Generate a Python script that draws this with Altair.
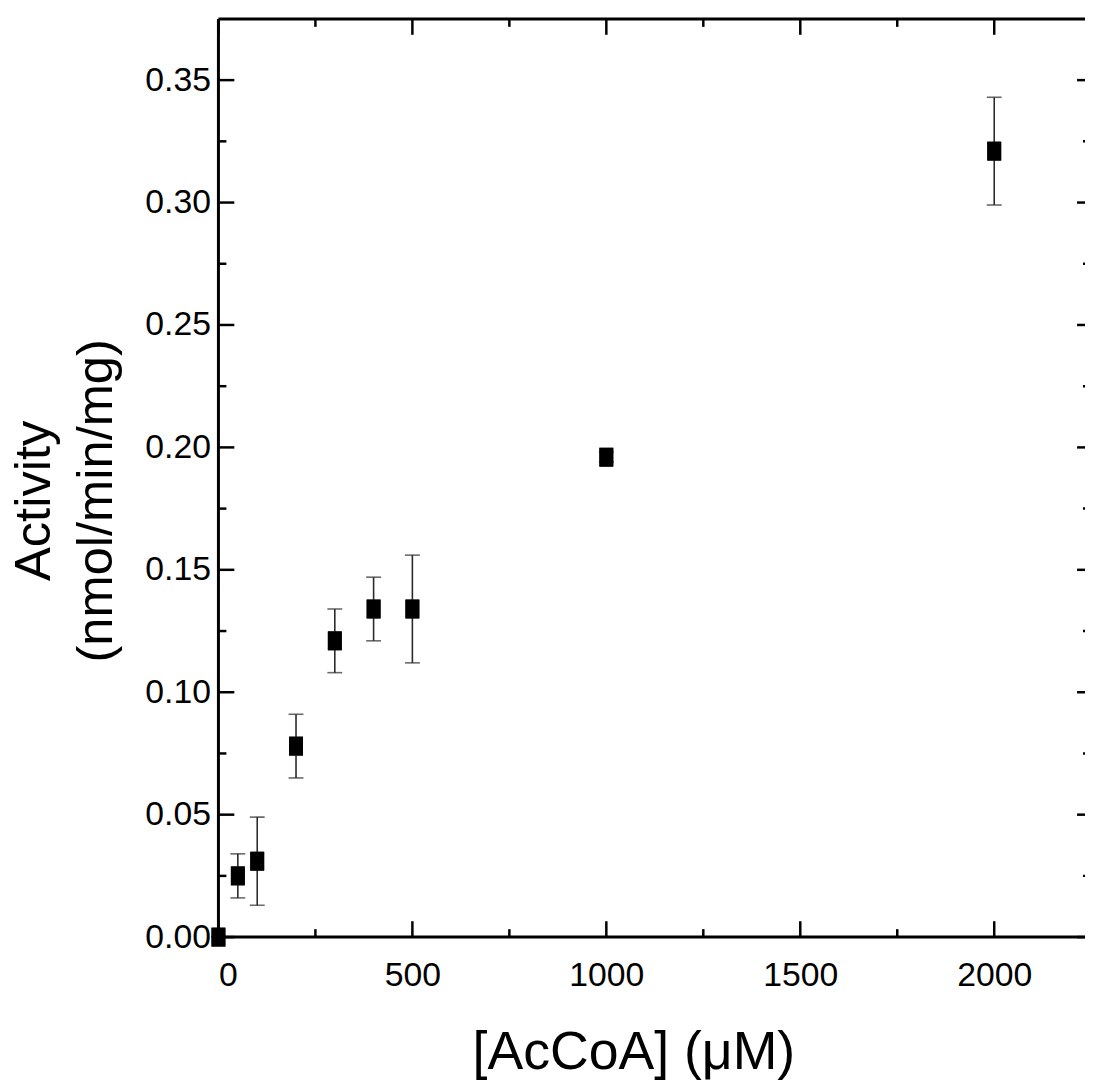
import altair as alt
import pandas as pd

# Data
conc = [0, 50, 100, 200, 300, 400, 500, 1000, 2000]
activity = [0.000, 0.025, 0.031, 0.078, 0.121, 0.134, 0.134, 0.196, 0.321]
err = [0.000, 0.009, 0.018, 0.013, 0.013, 0.013, 0.022, 0.002, 0.022]

x_major = [0, 500, 1000, 1500, 2000]
x_minor = [250, 750, 1250, 1750]
y_major = [0.0, 0.05, 0.10, 0.15, 0.20, 0.25, 0.30, 0.35]
y_minor = [0.025, 0.075, 0.125, 0.175, 0.225, 0.275, 0.325]

X_MAX = 2234  # visible part of the axis (the frame continues just past the picture's right edge)
W, H = 873, 925
MAJ, MIN = 16, 8
LABEL_FONT = "'Liberation Sans Narrow', 'Liberation Sans', Arial"
TITLE_FONT = "'Liberation Sans', Arial"

df = pd.DataFrame({"conc": conc, "act": activity, "err": err})
df["lo"] = df["act"] - df["err"]
df["hi"] = df["act"] + df["err"]

xs = alt.Scale(domain=[0, X_MAX], nice=False, zero=False)
ys = alt.Scale(domain=[0, 0.375], nice=False, zero=False)

square = "M-0.737,-1 L0.737,-1 L0.737,1 L-0.737,1 Z"

base = alt.Chart(df)

x_axis = alt.Axis(
    values=x_major, format="d", ticks=False, tickSize=0, domain=False, grid=False,
    labelFont=LABEL_FONT, labelFontSize=34, labelColor="black", labelPadding=22,
    title="[AcCoA] (μM)", titleFont=TITLE_FONT, titleFontSize=54, titleFontWeight="normal",
    titleColor="black", titleX=418, titleY=132, titleAlign="center", titleBaseline="alphabetic",
)
y_axis = alt.Axis(
    values=y_major, format=".2f", ticks=False, tickSize=0, domain=False, grid=False,
    labelFont=LABEL_FONT, labelFontSize=34, labelColor="black", labelPadding=8,
    title=["Activity", "(nmol/min/mg)"], titleFont=TITLE_FONT, titleFontSize=51,
    titleFontWeight="normal", titleColor="black", titleAngle=270, titleX=-170, titleY=485,
    titleAlign="center", titleBaseline="alphabetic", titleLineHeight=62,
)

X = lambda f: alt.X(f, scale=xs, axis=x_axis)
Y = lambda f: alt.Y(f, scale=ys, axis=y_axis)

points = base.mark_point(shape=square, size=361, filled=True, opacity=1, color="black", strokeWidth=0).encode(
    x=X("conc:Q"), y=Y("act:Q"),
)

bars = base.mark_rule(color="#2a2a2a", strokeWidth=1.6).encode(
    x=X("conc:Q"), y=Y("lo:Q"), y2="hi:Q",
)
cap_lo = base.mark_tick(color="#2a2a2a", thickness=1.6, size=15, orient="horizontal").encode(
    x=X("conc:Q"), y=Y("lo:Q"),
)
cap_hi = base.mark_tick(color="#2a2a2a", thickness=1.6, size=15, orient="horizontal").encode(
    x=X("conc:Q"), y=Y("hi:Q"),
)

def xticks(vals, length):
    c = alt.Chart(pd.DataFrame({"conc": vals}))
    bottom = c.mark_rule(color="black", strokeWidth=2.5).encode(
        x=X("conc:Q"), y=alt.value(H), y2=alt.value(H - length))
    top = c.mark_rule(color="black", strokeWidth=2.5).encode(
        x=X("conc:Q"), y=alt.value(0), y2=alt.value(length))
    return [bottom, top]

def yticks(vals, length, right_from):
    c = alt.Chart(pd.DataFrame({"act": vals}))
    left = c.mark_rule(color="black", strokeWidth=2.5).encode(
        y=Y("act:Q"), x=alt.value(0), x2=alt.value(length))
    right = c.mark_rule(color="black", strokeWidth=2.5).encode(
        y=Y("act:Q"), x=alt.value(right_from), x2=alt.value(W))
    return [left, right]

# frame: left, top and bottom lines (the right line lies just outside the picture)
frame_df = pd.DataFrame({"conc": [0]})
frame = [
    alt.Chart(frame_df).mark_rule(color="black", strokeWidth=3).encode(
        x=alt.value(0), y=alt.value(0), y2=alt.value(H)),
    alt.Chart(frame_df).mark_rule(color="black", strokeWidth=3).encode(
        x=alt.value(0), x2=alt.value(W), y=alt.value(0)),
    alt.Chart(frame_df).mark_rule(color="black", strokeWidth=3).encode(
        x=alt.value(0), x2=alt.value(W), y=alt.value(H)),
]

tick_layers = (xticks(x_major, MAJ) + xticks(x_minor, MIN)
               + yticks(y_major, MAJ, W - 8) + yticks(y_minor, MIN, W - 2))

chart = alt.layer(
    points, bars, cap_lo, cap_hi, *tick_layers, *frame, points
).properties(
    width=W, height=H,
    background="white",
    autosize=alt.AutoSizeParams(type="none"),
    padding={"left": 212, "top": 7, "right": 0, "bottom": 144},
).configure_view(
    stroke=None, fill="white"
)

chart.save("out.html", embed_options={"renderer": "svg", "actions": False})
